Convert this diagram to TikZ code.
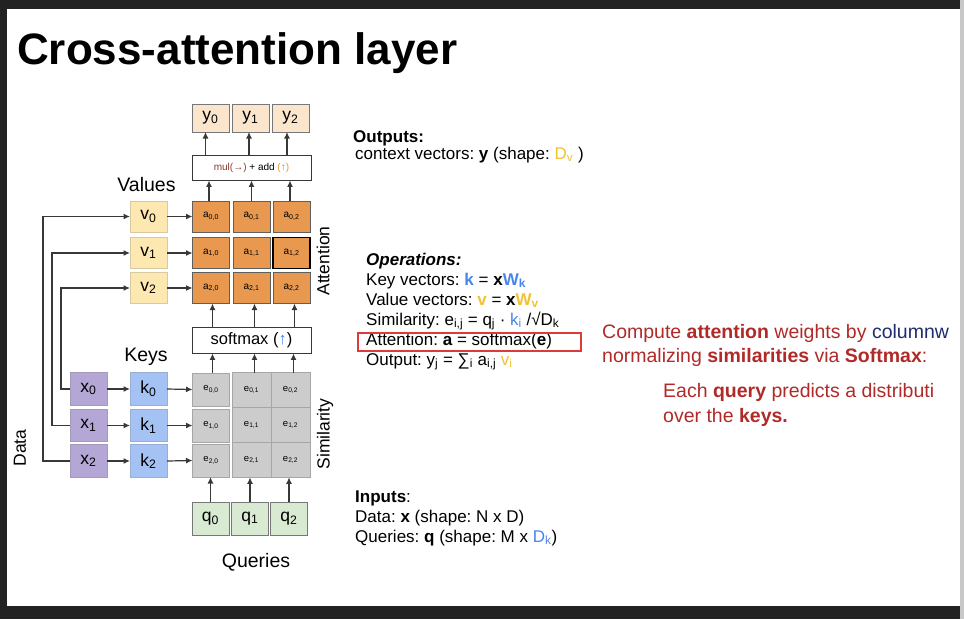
\documentclass[tikz,border=0pt]{standalone}
\usepackage{fontspec}
\setmainfont{Liberation Sans}
\usetikzlibrary{arrows.meta}
\definecolor{framedark}{HTML}{222222}
\definecolor{stripgrey}{HTML}{C8C8C8}
\definecolor{ypeach}{HTML}{FCE5CD}
\definecolor{vyellow}{HTML}{FCE8B0}
\definecolor{aorange}{HTML}{E8984F}
\definecolor{egrey}{HTML}{CCCCCC}
\definecolor{xpurple}{HTML}{B4A7D6}
\definecolor{kblueb}{HTML}{A4C2F4}
\definecolor{qgreen}{HTML}{D9EAD3}
\definecolor{cellborder}{HTML}{777777}
\definecolor{arrowgrey}{HTML}{383838}
\definecolor{redtxt}{HTML}{B02A28}
\definecolor{navytxt}{HTML}{1F2C6E}
\definecolor{goldtxt}{HTML}{F1C232}
\definecolor{bluetxt}{HTML}{4A86E8}
\definecolor{redbox}{HTML}{E0393A}
\definecolor{mulred}{HTML}{8B3A2A}
\definecolor{parorange}{HTML}{E69138}
\tikzset{
  cell/.style={draw=cellborder, line width=0.8pt, minimum width=37pt, minimum height=31pt, inner sep=0pt, outer sep=0pt, font=\fontsize{17.5}{18}\selectfont},
  ycell/.style={cell, fill=ypeach, minimum height=28pt},
  vcell/.style={cell, fill=vyellow, draw=vyellow!70!gray},
  acell/.style={cell, fill=aorange, draw=cellborder!80!black, font=\fontsize{10}{10}\selectfont},
  ecell/.style={cell, fill=egrey, draw=gray!70, font=\fontsize{9.5}{10}\selectfont, minimum height=33pt},
  e2cell/.style={ecell, minimum width=39pt, minimum height=34.7pt},
  xcell/.style={cell, fill=xpurple, draw=xpurple!70!gray, minimum height=32.5pt},
  kcell/.style={cell, fill=kblueb, draw=kblueb!70!gray, minimum height=32.5pt},
  qcell/.style={cell, fill=qgreen, draw=cellborder, minimum height=33pt},
  opbox/.style={draw=arrowgrey, line width=0.9pt, fill=white, inner sep=0pt, minimum width=119pt},
  arr/.style={-{Latex[length=6.5pt,width=6pt]}, line width=1.2pt, draw=arrowgrey},
  lbl/.style={inner sep=0pt, font=\fontsize{19.5}{20}\selectfont},
  sidelbl/.style={inner sep=0pt, rotate=90, font=\fontsize{17.5}{18}\selectfont},
  txt/.style={anchor=base west, inner sep=0pt, font=\fontsize{17}{20}\selectfont},
  rtxt/.style={anchor=base west, inner sep=0pt, text=redtxt, font=\fontsize{19.5}{22}\selectfont},
}
\frenchspacing
\begin{document}
\begin{tikzpicture}[x=1pt,y=-1pt]
\useasboundingbox (0,0) rectangle (964,619);
% frame
\fill[framedark] (0,0) rectangle (964,619);
\fill[white] (7,9) rectangle (960,605.5);
% title
\node[anchor=base west, inner sep=0pt, font=\fontsize{44}{44}\selectfont\bfseries] (title) at (17,64) {Cross-attention layer};
% outputs
\node[ycell] (y0) at (210.5,118) {y\textsubscript{0}};
\node[ycell] (y1) at (250.5,118) {y\textsubscript{1}};
\node[ycell] (y2) at (290.5,118) {y\textsubscript{2}};
\node[opbox, minimum height=25pt, font=\fontsize{10}{10}\selectfont] (mul) at (251.5,167.5) {{\color{mulred}mul(→)} + add {\color{parorange}(}{\color{bluetxt}↑}{\color{parorange})}};
% values
\node[lbl] (vlbl) at (146.5,185) {Values};
\node[vcell] (v0) at (148.5,216.5) {v\textsubscript{0}};
\node[vcell] (v1) at (148.5,253) {v\textsubscript{1}};
\node[vcell] (v2) at (148.5,288) {v\textsubscript{2}};
% attention grid
\node[acell] (a00) at (211,216.5) {a\textsubscript{0,0}};
\node[acell] (a01) at (251.5,216.5) {a\textsubscript{0,1}};
\node[acell] (a02) at (291.5,216.5) {a\textsubscript{0,2}};
\node[acell] (a10) at (211,253) {a\textsubscript{1,0}};
\node[acell] (a11) at (251.5,253) {a\textsubscript{1,1}};
\node[acell, draw=black, line width=1.1pt] (a12) at (291.5,253) {a\textsubscript{1,2}};
\node[acell] (a20) at (211,288) {a\textsubscript{2,0}};
\node[acell] (a21) at (251.5,288) {a\textsubscript{2,1}};
\node[acell] (a22) at (291.5,288) {a\textsubscript{2,2}};
\node[sidelbl] (attlbl) at (323,261) {Attention};
% softmax
\node[opbox, minimum height=26pt, font=\fontsize{16.5}{17}\selectfont] (sm) at (251.5,340) {softmax ({\color{bluetxt}↑})};
% keys & data
\node[lbl] (klbl) at (146,357) {Keys};
\node[xcell] (x0) at (88.5,389) {x\textsubscript{0}};
\node[xcell] (x1) at (88.5,425.5) {x\textsubscript{1}};
\node[xcell] (x2) at (88.5,461) {x\textsubscript{2}};
\node[kcell] (k0) at (148.5,389) {k\textsubscript{0}};
\node[kcell] (k1) at (148.5,425.5) {k\textsubscript{1}};
\node[kcell] (k2) at (148.5,461) {k\textsubscript{2}};
\node[sidelbl] (dlbl) at (20,448) {Data};
% similarity grid
\node[ecell] (e00) at (211,389.5) {e\textsubscript{0,0}};
\node[ecell] (e10) at (211,425.5) {e\textsubscript{1,0}};
\node[ecell] (e20) at (211,460.5) {e\textsubscript{2,0}};
\node[e2cell] (e01) at (251.5,390) {e\textsubscript{0,1}};
\node[e2cell] (e11) at (251.5,425) {e\textsubscript{1,1}};
\node[e2cell] (e21) at (251.5,460) {e\textsubscript{2,1}};
\node[e2cell] (e02) at (290.5,390) {e\textsubscript{0,2}};
\node[e2cell] (e12) at (290.5,425) {e\textsubscript{1,2}};
\node[e2cell] (e22) at (290.5,460) {e\textsubscript{2,2}};
\node[sidelbl] (simlbl) at (325,434) {Similarity};
% queries
\node[qcell] (q0) at (210.5,518.5) {q\textsubscript{0}};
\node[qcell] (q1) at (250,518.5) {q\textsubscript{1}};
\node[qcell] (q2) at (289,518.5) {q\textsubscript{2}};
\node[lbl] (qlbl) at (256,562) {Queries};
% connectors
\draw[arr] (x2.west) -- ++(-27,0) |- (v0.west);
\draw[arr] (x1.west) -- ++(-18,0) |- (v1.west);
\draw[arr] (x0.west) -- ++(-9,0) |- (v2.west);
\foreach \i in {0,1,2}{
  \draw[arr] (x\i.east) -- (k\i.west);
  \draw[arr] (k\i.east) -- (e\i0.west);
  \draw[arr] (v\i.east) -- (a\i0.west);
  \draw[arr] (q\i.north) -- (q\i.north |- e2\i.south);
}
\foreach \j/\s in {0/1.5,1/3,2/3}{
  \draw[arr] ([xshift=\s pt]e0\j.north) -- ([xshift=\s pt]e0\j.north |- sm.south);
  \draw[arr] ([xshift=\s pt]a2\j.south |- sm.north) -- ([xshift=\s pt]a2\j.south);
}
\foreach \j/\s in {0/-2,1/0,2/-1.5}{
  \draw[arr] ([xshift=\s pt]a0\j.north) -- ([xshift=\s pt]a0\j.north |- mul.south);
}
\foreach \j/\s in {0/-5,1/-1.5,2/-3.5}{
  \draw[arr] ([xshift=\s pt]y\j.south |- mul.north) -- ([xshift=\s pt]y\j.south);
}
% right text
\node[txt] (out1) at (353,142) {\textbf{Outputs:}};
\node[txt] (out2) at (355,159) {context vectors: \textbf{y} (shape: {\color{goldtxt}D\textsubscript{v}} )};
\node[txt] (op1) at (366,265) {\textbf{\textit{Operations:}}};
\node[txt] (op2) at (366,285) {Key vectors: {\color{bluetxt}\textbf{k}} = \textbf{x}{\color{bluetxt}\textbf{W}\textsubscript{\textbf{k}}}};
\node[txt] (op3) at (366,305) {Value vectors: {\color{goldtxt}\textbf{v}} = \textbf{x}{\color{goldtxt}\textbf{W}\textsubscript{\textbf{v}}}};
\node[txt] (op4) at (366,325) {Similarity: e\textsubscript{i,j} = q\textsubscript{j} · {\color{bluetxt}k\textsubscript{i}} /√D\textsubscript{k}};
\node[txt] (op5) at (366,345) {Attention: \textbf{a} = softmax(\textbf{e})};
\node[txt] (op6) at (366,365) {Output: y\textsubscript{j} = ∑\textsubscript{i} a\textsubscript{i,j} {\color{goldtxt}v\textsubscript{i}}};
\node[draw=redbox, line width=1.5pt, minimum width=223pt, minimum height=18pt, inner sep=0pt] (rbox) at (469.5,342) {};
\node[txt] (in1) at (355,502) {\textbf{Inputs}:};
\node[txt] (in2) at (355,522) {Data: \textbf{x} (shape: N x D)};
\node[txt] (in3) at (355,542) {Queries: \textbf{q} (shape: M x {\color{bluetxt}D\textsubscript{k}})};
\begin{scope}
\clip (0,0) rectangle (960,619);
\node[rtxt] (r1) at (602,338) {Compute \textbf{attention} weights by {\color{navytxt}columnw}};
\node[rtxt] (r2) at (602,362) {normalizing \textbf{similarities} via \textbf{Softmax}:};
\node[rtxt] (r3) at (663,397) {Each \textbf{query} predicts a distributi};
\node[rtxt] (r4) at (663,422) {over the \textbf{keys.}};
\end{scope}
\fill[stripgrey] (960,0) rectangle (964,619);
\end{tikzpicture}
\end{document}
